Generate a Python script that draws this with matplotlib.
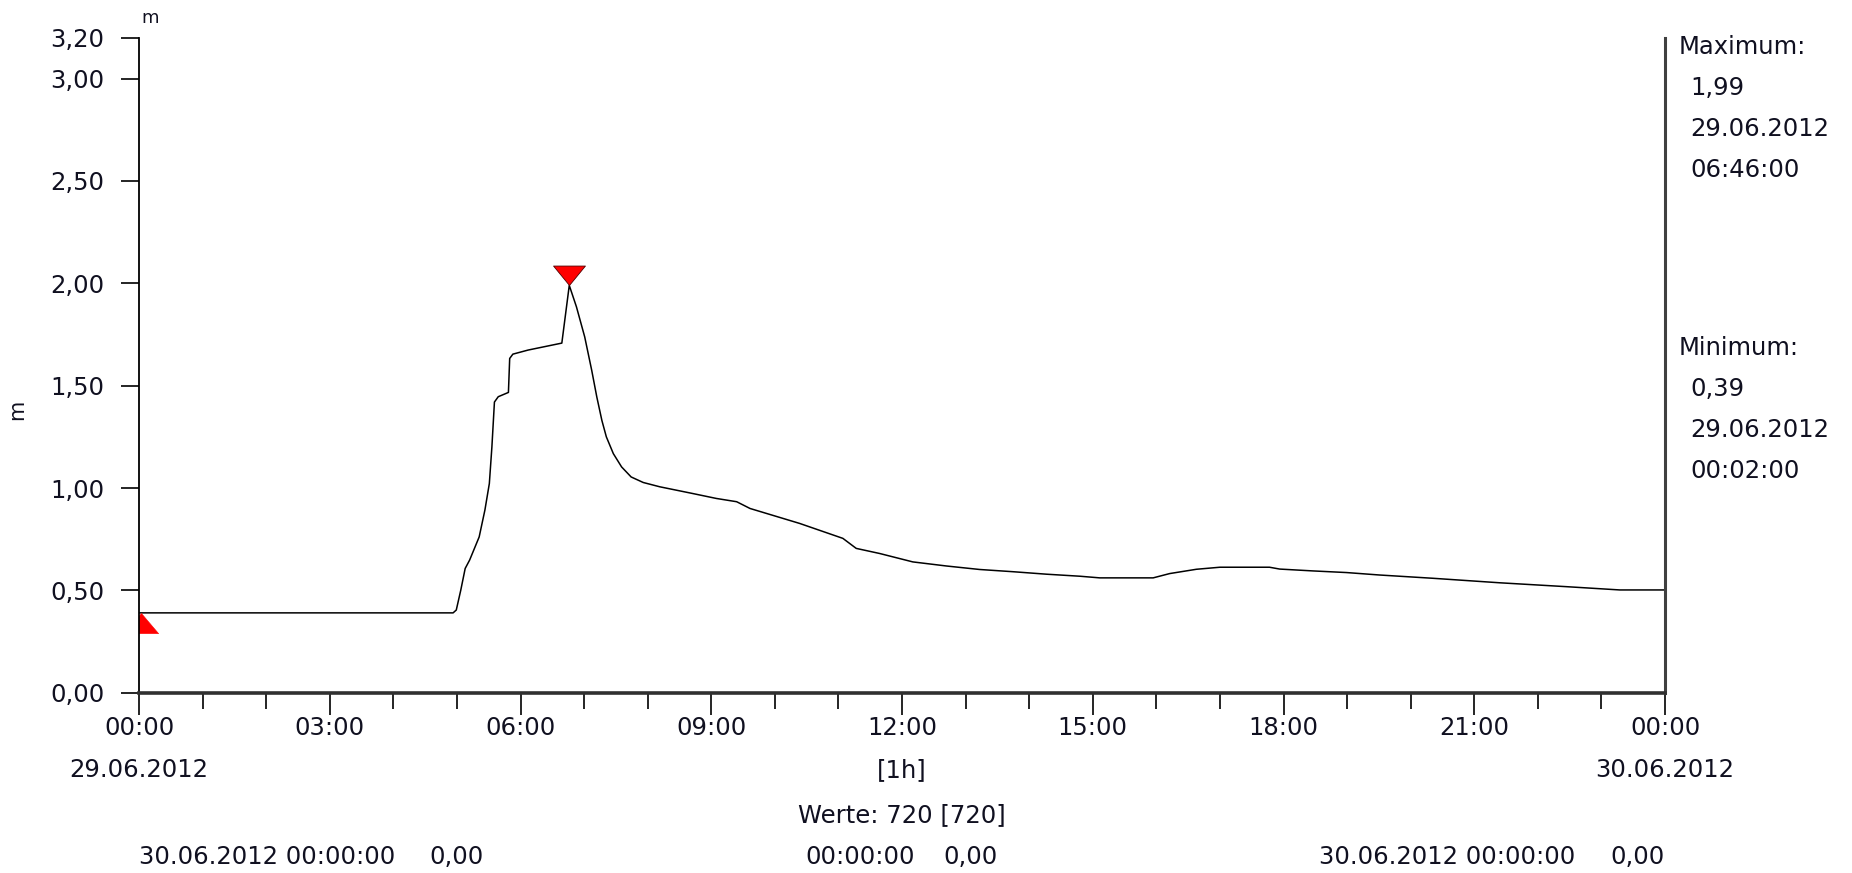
import matplotlib.pyplot as plt
from matplotlib.ticker import MultipleLocator

# Wasserstand 29.06.2012, Stunden ab 00:00
hours = [0.0, 0.033, 4.94, 4.99, 5.06, 5.13, 5.20, 5.35, 5.44, 5.51, 5.55,
         5.59, 5.65, 5.81, 5.83, 5.88, 6.12, 6.65, 6.767, 6.88, 7.01, 7.12,
         7.20, 7.28, 7.35, 7.46, 7.59, 7.74, 7.93, 8.19, 8.71, 9.08, 9.40,
         9.61, 10.39, 11.07, 11.28, 11.65, 12.17, 12.70, 13.22, 13.75, 14.27,
         14.80, 15.11, 15.95, 16.21, 16.63, 17.0, 17.78, 17.94, 18.46, 18.99,
         19.51, 20.35, 21.40, 22.45, 23.29, 24.0]
level = [0.39, 0.39, 0.39, 0.404, 0.50, 0.607, 0.648, 0.761, 0.892, 1.022, 1.20,
         1.42, 1.446, 1.467, 1.633, 1.654, 1.674, 1.708, 1.99, 1.885, 1.738, 1.575,
         1.445, 1.33, 1.25, 1.168, 1.103, 1.054, 1.027, 1.006, 0.973, 0.949, 0.933,
         0.90, 0.827, 0.754, 0.705, 0.680, 0.639, 0.619, 0.602, 0.591, 0.579,
         0.569, 0.561, 0.561, 0.582, 0.603, 0.613, 0.613, 0.604, 0.595, 0.587,
         0.575, 0.559, 0.537, 0.518, 0.502, 0.502]

max_point = (6.767, 1.99)
min_point = (0.033, 0.39)

yticks = [0.0, 0.5, 1.0, 1.5, 2.0, 2.5, 3.0, 3.2]
ylabels = ["0,00", "0,50", "1,00", "1,50", "2,00", "2,50", "3,00", "3,20"]
xticks = [0, 3, 6, 9, 12, 15, 18, 21, 24]
xlabels = ["00:00", "03:00", "06:00", "09:00", "12:00", "15:00", "18:00", "21:00", "00:00"]

max_info = ["Maximum:", "1,99", "29.06.2012", "06:46:00"]
min_info = ["Minimum:", "0,39", "29.06.2012", "00:02:00"]

plt.rcParams['font.family'] = ['DejaVu Sans']
TXT = '#101020'
FS = 17.5

W, H = 1852, 873
fig = plt.figure(figsize=(W / 100, H / 100), dpi=100)


def fx(x):
    return x / W


def fy(y):
    return 1 - y / H


ax = fig.add_axes([fx(139), fy(692.7), fx(1665) - fx(139), fy(37.7) - fy(692.7)])
ax.plot(hours, level, color='black', lw=1.1)

down_tri = [(0, 0), (-0.82, 1), (0.82, 1), (0, 0)]
up_tri = [(0, 0), (-0.85, -1), (0.85, -1), (0, 0)]
ax.plot([max_point[0]], [max_point[1]], marker=down_tri, ms=28, color='red',
        mec='#500000', mew=0.6, ls='none')
ax.plot([min_point[0]], [min_point[1]], marker=up_tri, ms=29, color='red',
        mec='red', mew=0.4, ls='none')

ax.set_xlim(0, 24)
ax.set_ylim(0, 3.2)
ax.set_yticks(yticks, labels=ylabels)
ax.set_xticks(xticks, labels=xlabels)
ax.xaxis.set_minor_locator(MultipleLocator(1))

ax.tick_params(axis='y', direction='out', length=13, width=1.2, pad=12,
               labelsize=FS, labelcolor=TXT)
ax.tick_params(axis='x', which='major', direction='out', length=16, width=1.2,
               pad=1, labelsize=FS, labelcolor=TXT)
ax.tick_params(axis='x', which='minor', direction='out', length=11.5, width=1.2)

ax.spines['top'].set_visible(False)
ax.spines['left'].set_linewidth(1.3)
ax.spines['bottom'].set_linewidth(2.6)
ax.spines['bottom'].set_color('#303030')
ax.spines['right'].set_linewidth(2.2)
ax.spines['right'].set_color('#404040')

# Achsbeschriftungen
fig.text(fx(17), fy(410), "m", rotation=90, ha='center', va='center', fontsize=15, color=TXT)
fig.text(fx(150), fy(18), "m", ha='center', va='center', fontsize=13, color=TXT)

fig.text(fx(139), fy(770), "29.06.2012", ha='center', va='center', fontsize=FS, color=TXT)
fig.text(fx(902), fy(770), "[1h]", ha='center', va='center', fontsize=FS, color=TXT)
fig.text(fx(1665), fy(770), "30.06.2012", ha='center', va='center', fontsize=FS, color=TXT)
fig.text(fx(902), fy(815), "Werte: 720 [720]", ha='center', va='center', fontsize=FS, color=TXT)

fig.text(fx(139), fy(857), "30.06.2012 00:00:00", ha='left', va='center', fontsize=FS, color=TXT)
fig.text(fx(484), fy(857), "0,00", ha='right', va='center', fontsize=FS, color=TXT)
fig.text(fx(805), fy(857), "00:00:00", ha='left', va='center', fontsize=FS, color=TXT)
fig.text(fx(998), fy(857), "0,00", ha='right', va='center', fontsize=FS, color=TXT)
fig.text(fx(1319), fy(857), "30.06.2012 00:00:00", ha='left', va='center', fontsize=FS, color=TXT)
fig.text(fx(1665), fy(857), "0,00", ha='right', va='center', fontsize=FS, color=TXT)

# Extremwerte rechts
for info, y0 in [(max_info, 47), (min_info, 348)]:
    fig.text(fx(1679), fy(y0), info[0], ha='left', va='center', fontsize=FS, color=TXT)
    for i, s in enumerate(info[1:]):
        fig.text(fx(1690), fy(y0 + 41 + 41 * i), s, ha='left', va='center', fontsize=FS, color=TXT)

fig.savefig("out.png", dpi=100)
